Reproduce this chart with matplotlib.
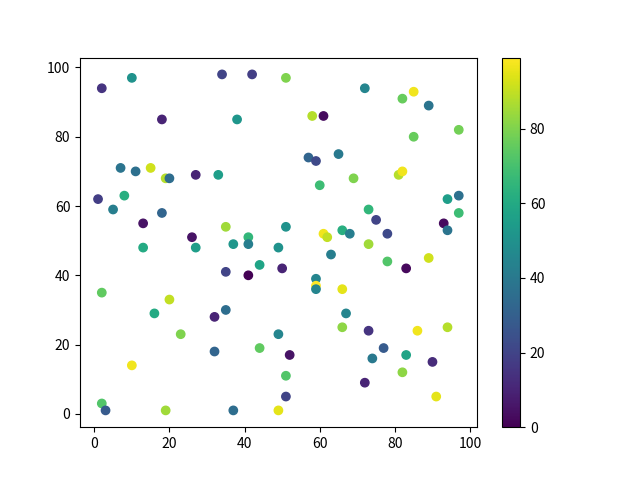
import numpy as np
import matplotlib
matplotlib.use('Agg')
import matplotlib.pyplot as plt

plt.rcParams['font.family'] = ['Noto Sans CJK SC', 'DejaVu Sans']

# Data

x = [2, 10, 34, 42, 51, 18, 38, 72, 82, 85,
     89, 58, 61, 97, 85, 57, 59, 65, 7, 11,
     15, 19, 20, 27, 33, 69, 81, 82, 60, 1,
     8, 5, 18, 13, 26, 13, 27, 35, 41, 37,
     41, 49, 51, 61, 62, 66, 68, 73, 75, 78,
     73, 78, 94, 97, 93, 94, 97, 63, 59, 59,
     59, 66, 67, 49, 66, 73, 86, 94, 77, 74,
     83, 90, 52, 51, 82, 72, 51, 91, 49, 89,
     83, 50, 44, 41, 35, 2, 20, 16, 35, 32,
     23, 44, 32, 10, 2, 3, 19, 37]

y = [94, 97, 98, 98, 97, 85, 85, 94, 91, 93,
     89, 86, 86, 82, 80, 74, 73, 75, 71, 70,
     71, 68, 68, 69, 69, 68, 69, 70, 66, 62,
     63, 59, 58, 55, 51, 48, 48, 54, 51, 49,
     49, 48, 54, 52, 51, 53, 52, 59, 56, 52,
     49, 44, 62, 63, 55, 53, 58, 46, 39, 37,
     36, 36, 29, 23, 25, 24, 24, 25, 19, 16,
     17, 15, 17, 11, 12, 9, 5, 5, 1, 45,
     42, 42, 43, 40, 41, 35, 33, 29, 30, 28,
     23, 19, 18, 14, 3, 1, 1, 1]

z = [15, 50, 20, 18, 80, 10, 52, 45, 76, 97,
     38, 88, 3, 78, 76, 32, 22, 40, 38, 36,
     92, 88, 35, 10, 55, 80, 88, 97, 68, 18,
     62, 42, 32, 5, 5, 60, 55, 85, 65, 52,
     42, 50, 50, 97, 90, 62, 42, 65, 20, 22,
     85, 72, 55, 36, 3, 38, 68, 42, 45, 99,
     45, 95, 45, 45, 82, 15, 97, 88, 28, 40,
     58, 12, 5, 72, 82, 10, 20, 95, 95, 92,
     2, 10, 58, 0, 20, 75, 90, 60, 35, 10,
     80, 75, 32, 97, 72, 28, 85, 35]

# Plot

fig, ax = plt.subplots(figsize=(6.4, 4.8), dpi=100)
sc = ax.scatter(x, y, c=z, cmap='viridis')
fig.colorbar(sc, ax=ax)

fig.savefig('out.png')
